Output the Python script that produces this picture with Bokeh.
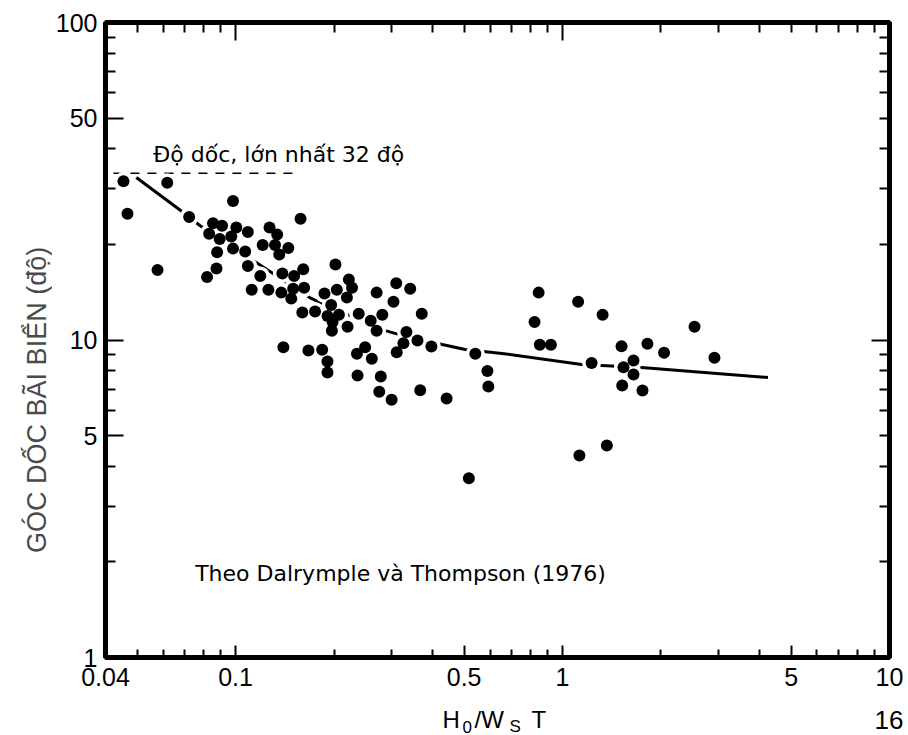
import math
from bokeh.plotting import figure
from bokeh.layouts import column, row
from bokeh.models import (FixedTicker, LogAxis, Label, CustomJSTickFormatter,
                          Range1d, ColumnDataSource)
from bokeh.core.properties import value
from bokeh.embed import file_html
from bokeh.resources import INLINE

# ---------------- data ----------------
h_ws_t = [0.0454, 0.0618, 0.0467, 0.0982, 0.0721, 0.158, 0.0853, 0.0909, 0.0830, 0.1005,
          0.0970, 0.0894, 0.109, 0.127, 0.134, 0.121, 0.132, 0.145, 0.136, 0.0982,
          0.107, 0.0878, 0.0577, 0.109, 0.0874, 0.0818, 0.202, 0.119, 0.139, 0.151,
          0.161, 0.222, 0.227, 0.112, 0.126, 0.138, 0.150, 0.148, 0.162, 0.187,
          0.204, 0.219, 0.270, 0.310, 0.342, 0.304, 0.160, 0.175, 0.196, 0.191,
          0.207, 0.198, 0.197, 0.220, 0.238, 0.281, 0.259, 0.270, 0.371, 0.333,
          0.326, 0.311, 0.360, 0.397, 0.140, 0.167, 0.184, 0.191, 0.191, 0.235,
          0.249, 0.261, 0.236, 0.278, 0.275, 0.300, 0.367, 0.442, 0.541, 0.589,
          0.593, 0.517, 0.845, 0.821, 0.852, 0.921, 1.116, 1.227, 1.126, 1.326,
          1.366, 2.533, 2.915, 1.515, 1.818, 2.044, 1.648, 1.536, 1.648, 1.522,
          1.756]
slope_deg = [31.6, 31.3, 25.0, 27.4, 24.4, 24.1, 23.3, 22.9, 21.6, 22.6,
             21.2, 20.8, 21.9, 22.6, 21.5, 19.9, 19.9, 19.5, 18.6, 19.4,
             19.0, 18.9, 16.6, 17.1, 16.8, 15.8, 17.3, 15.9, 16.2, 15.9,
             16.7, 15.5, 14.6, 14.4, 14.4, 14.1, 14.5, 13.5, 14.6, 14.0,
             14.4, 13.6, 14.1, 15.1, 14.5, 13.2, 12.2, 12.3, 12.9, 11.9,
             12.0, 11.4, 10.7, 11.0, 12.1, 12.0, 11.5, 10.7, 12.1, 10.6,
             9.77, 9.15, 9.96, 9.54, 9.49, 9.27, 9.31, 8.55, 7.90, 9.05,
             9.49, 8.73, 7.73, 7.67, 6.87, 6.48, 6.95, 6.54, 9.05, 7.98,
             7.14, 3.67, 14.1, 11.4, 9.66, 9.66, 13.2, 8.46, 4.33, 12.0,
             4.65, 11.0, 8.79, 9.56, 9.73, 9.11, 8.62, 8.21, 7.79, 7.19,
             6.93]

curve_x = [0.0497, 0.0692, 0.0779, 0.1685, 0.1846, 0.287, 0.317, 0.4285, 0.5035,
           0.653, 1.144, 1.743, 4.249]
curve_y = [32.5, 25.2, 22.9, 13.6, 13.0, 10.7, 10.4, 9.68, 9.33,
           9.07, 8.37, 8.19, 7.62]

max_slope_x = [0.0423, 0.1496]
max_slope_y = [33.5, 33.5]

x_ticks = [0.04, 0.1, 0.5, 1, 5, 10]
x_minor = [0.05, 0.06, 0.07, 0.08, 0.09, 0.2, 0.3, 0.4, 0.6, 0.7, 0.8, 0.9,
           2, 3, 4, 6, 7, 8, 9]
y_ticks = [1, 5, 10, 50, 100]
y_minor = [2, 3, 4, 6, 7, 8, 9, 20, 30, 40, 60, 70, 80, 90]

y_title = "GÓC DỐC BÃI BIỂN (độ)"
xlabel_parts = ["H", "0", "/W", "S", "T"]
note_max = "Độ dốc, lớn nhất 32 độ"
note_src = "Theo Dalrymple và Thompson (1976)"
page_no = "16"

# ---------------- layout ----------------
W = 908
H_MAIN, H_FOOT = 700, 35
STRIP = 52
L, R, T, B = 102, 889, 22, 657          # frame edges in page pixels
X0, X1, Y0, Y1 = 0.04, 10.0, 1.0, 100.0


def sx(px):
    return 10 ** (math.log10(X0) + (px - L) / (R - L) * math.log10(X1 / X0))


def sy(py):
    return 10 ** (math.log10(Y0) + (B - py) / (B - T) * math.log10(Y1 / Y0))


def blank_fig(w, h):
    f = figure(width=w, height=h, x_range=Range1d(0, w), y_range=Range1d(h, 0),
               output_backend="svg", toolbar_location=None,
               x_axis_location=None, y_axis_location=None,
               min_border=0, min_border_left=0, min_border_right=0,
               min_border_top=0, min_border_bottom=0)
    f.grid.visible = False
    f.outline_line_color = None
    f.background_fill_color = "white"
    f.border_fill_color = "white"
    return f


p = figure(width=W - STRIP, height=H_MAIN, x_axis_type="log", y_axis_type="log",
           x_range=Range1d(X0, X1), y_range=Range1d(Y0, Y1),
           output_backend="svg", toolbar_location=None,
           min_border_left=L - STRIP, min_border_right=W - R,
           min_border_top=T, min_border_bottom=H_MAIN - B)
p.grid.visible = False
p.background_fill_color = "white"
p.border_fill_color = "white"
p.outline_line_color = "black"
p.outline_line_width = 5

label_js = CustomJSTickFormatter(code="return tick.toString();")
blank_js = CustomJSTickFormatter(code="return '';")


def style(ax, major_in, minor_in, standoff=10):
    ax.axis_line_width = 5
    ax.axis_line_color = "black"
    ax.major_tick_in = major_in
    ax.major_tick_out = 0
    ax.minor_tick_in = minor_in
    ax.minor_tick_out = 0
    ax.major_tick_line_width = 2
    ax.minor_tick_line_width = 2
    ax.major_tick_line_color = "black"
    ax.minor_tick_line_color = "black"
    ax.major_label_text_font = "Liberation Sans"
    ax.major_label_text_font_size = "25px"
    ax.major_label_text_color = "black"
    ax.major_label_standoff = standoff


xa = p.xaxis[0]
xa.ticker = FixedTicker(ticks=x_ticks, minor_ticks=x_minor)
xa.formatter = label_js
style(xa, 12, 8)

ya = p.yaxis[0]
ya.ticker = FixedTicker(ticks=y_ticks, minor_ticks=y_minor)
ya.formatter = label_js
style(ya, 18, 10, standoff=8)

top = LogAxis(ticker=FixedTicker(ticks=[0.1, 1], minor_ticks=x_minor + [0.5, 5]),
              formatter=blank_js)
style(top, 18, 10, standoff=0)
top.major_label_text_font_size = "0px"
p.add_layout(top, "above")

right = LogAxis(ticker=FixedTicker(ticks=[10], minor_ticks=y_minor + [5, 50]),
                formatter=blank_js)
style(right, 18, 10, standoff=0)
right.major_label_text_font_size = "0px"
p.add_layout(right, "right")

# ---------------- marks ----------------
p.line(max_slope_x, max_slope_y, line_color="black", line_width=1.5, line_dash="9 8")
p.line(curve_x, curve_y, line_color="black", line_width=3)

src = ColumnDataSource(dict(x=h_ws_t, y=slope_deg))
p.scatter("x", "y", source=src, size=19, fill_color="white", line_color=None)
p.scatter("x", "y", source=src, size=12, fill_color="black", line_color=None)

# ---------------- texts inside the frame ----------------
p.add_layout(Label(x=sx(150), y=sy(154), text=note_max,
                   text_align="left", text_baseline="middle",
                   text_font="DejaVu Sans", text_font_size="22px", text_color="black"))
p.add_layout(Label(x=sx(192), y=sy(573), text=note_src,
                   text_align="left", text_baseline="middle",
                   text_font="DejaVu Sans", text_font_size="22px", text_color="black"))

# ---------------- left strip: y-axis title ----------------
ls = blank_fig(STRIP, H_MAIN)
ls.text(x=[36.5], y=[416], text=[y_title], angle=math.pi / 2,
        text_align="center", text_baseline="middle",
        text_font=value("Liberation Sans"), text_font_size=value("27px"),
        text_color="#4a4a4a")

# ---------------- footer strip: x-axis title and page number ----------------
f = blank_fig(W, H_FOOT)
main_src = ColumnDataSource(dict(x=[442, 474, 531], y=[19, 19, 19],
                                 t=[xlabel_parts[0], xlabel_parts[2], xlabel_parts[4]]))
sub_src = ColumnDataSource(dict(x=[462, 509], y=[26, 26],
                                t=[xlabel_parts[1], xlabel_parts[3]]))
f.text("x", "y", text="t", source=main_src, text_font=value("Liberation Sans"),
       text_font_size=value("24px"), text_baseline="middle", text_align="left",
       text_color="black")
f.text("x", "y", text="t", source=sub_src, text_font=value("Liberation Sans"),
       text_font_size=value("17px"), text_baseline="middle", text_align="left",
       text_color="black")
f.text(x=[903], y=[19], text=[page_no], text_font=value("Liberation Sans"),
       text_font_size=value("26px"), text_baseline="middle", text_align="right",
       text_color="black")

layout = column(row(ls, p, spacing=0), f, spacing=0)
open("out.html", "w").write(file_html(layout, INLINE))
